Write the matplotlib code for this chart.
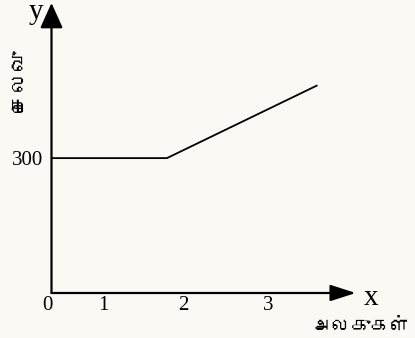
import matplotlib
matplotlib.use("Agg")
import matplotlib.pyplot as plt
from matplotlib.patches import FancyArrowPatch
from matplotlib import font_manager

# Data
line_x = [0, 1.48, 3.41]
line_y = [300, 300, 462]
x_tick_pos = [-0.05, 0.66, 1.69, 2.78]
x_tick_labels = ["0", "1", "2", "3"]
y_tick_pos = [300]
y_tick_labels = ["300"]
x_name = "x"
y_name = "y"
x_label = "அலகுகள்"
y_label = "செலவு"


def find_tamil_families():
    fams = []
    try:
        from fontTools.ttLib import TTFont
    except Exception:
        return fams
    seen = set()
    for f in font_manager.fontManager.ttflist:
        if f.name in seen:
            continue
        try:
            tt = TTFont(f.fname, fontNumber=0, lazy=True)
            cmap = tt.getBestCmap() or {}
            if all(ord(c) in cmap for c in set(x_label + y_label)):
                fams.append(f.name)
                seen.add(f.name)
        except Exception:
            pass
    return fams


tamil_fams = find_tamil_families()

W, H = 415, 338
bg = "#fbf9f4"
fig = plt.figure(figsize=(W / 100, H / 100), dpi=100, facecolor=bg)
x0, x1 = -0.1, 3.9
ax = fig.add_axes([(51.5 + x0 * 78) / W, 45 / H, (x1 - x0) * 78 / W, 290 / H])
ax.set_facecolor(bg)
ax.set_xlim(x0, x1)
ax.set_ylim(0, 645)
for s in ax.spines.values():
    s.set_visible(False)

serif = ["Liberation Serif", "DejaVu Serif"]
tamil = tamil_fams[:1] + ["DejaVu Sans"]

ax.set_xticks(x_tick_pos, x_tick_labels)
ax.set_yticks(y_tick_pos, y_tick_labels)
ax.tick_params(axis="x", length=0, pad=2, labelsize=15)
ax.tick_params(axis="y", length=0, pad=0.5, labelsize=15)
for lab in ax.get_xticklabels() + ax.get_yticklabels():
    lab.set_fontfamily(serif)

# axes arrows
ax.add_patch(FancyArrowPatch((0, 0), (3.9, 0), arrowstyle="-|>,head_length=15.5,head_width=5",
                             mutation_scale=1, lw=1.6, color="black", shrinkA=0, shrinkB=0,
                             clip_on=False))
ax.add_patch(FancyArrowPatch((0, 0), (0, 645), arrowstyle="-|>,head_length=15.5,head_width=7",
                             mutation_scale=1, lw=1.6, color="black", shrinkA=0, shrinkB=0,
                             clip_on=False))

ax.plot(line_x, line_y, color="black", lw=1.3, solid_capstyle="butt", clip_on=False)

ax.text(-0.2, 624, y_name, fontsize=21, family=serif, ha="center", va="center")
ax.text(4.1, -11, x_name, fontsize=21, family=serif, ha="center", va="center")
ax.text(3.97, -72, x_label, fontsize=14, family=tamil, ha="center", va="center")
ax.text(-0.41, 473, y_label, fontsize=15, family=tamil, ha="center", va="center", rotation=90)

fig.savefig("out.png", dpi=100, facecolor=bg)
